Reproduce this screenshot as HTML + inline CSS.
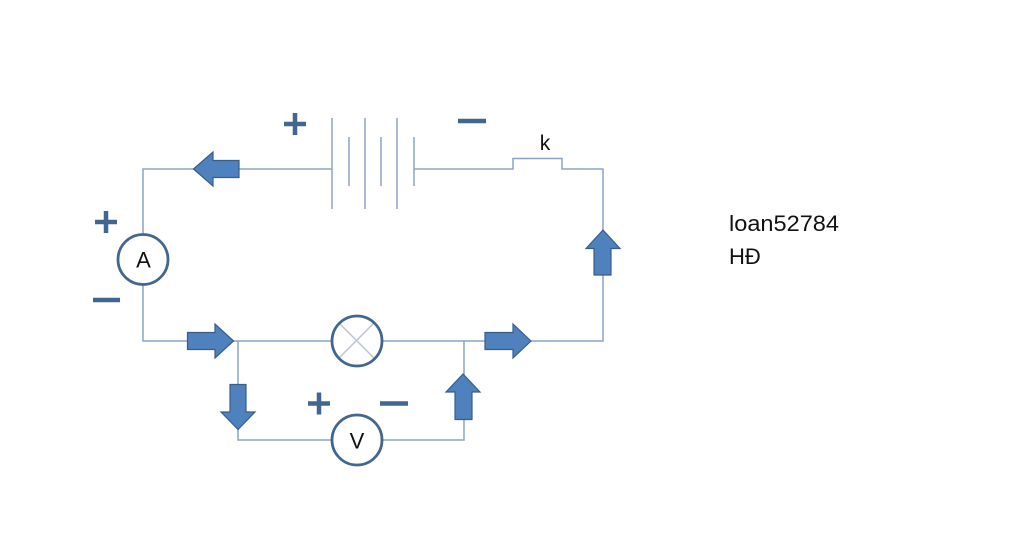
<!DOCTYPE html>
<html><head><meta charset="utf-8"><style>
html,body{margin:0;padding:0;background:#fff;}
svg{display:block;}
</style></head><body>
<svg width="1024" height="550" viewBox="0 0 1024 550" xmlns="http://www.w3.org/2000/svg">
<rect width="1024" height="550" fill="#fff"/>
<g fill="none" stroke="#8aa4c8" stroke-width="1.5">
<polyline points="332,169 143,169 143,234"/>
<polyline points="414,169 513,169 513,158.5 562,158.5 562,169 603,169 603,341 464,341"/>
<polyline points="143,285 143,341 332,341"/>
<line x1="382" y1="341" x2="464" y2="341"/>
<polyline points="238,341 238,440 332,440"/>
<polyline points="382,440 464,440 464,341"/>
<line x1="332" y1="118" x2="332" y2="209"/>
<line x1="365" y1="118" x2="365" y2="209"/>
<line x1="397" y1="118" x2="397" y2="209"/>
<line x1="349" y1="137" x2="349" y2="186"/>
<line x1="381" y1="137" x2="381" y2="186"/>
<line x1="414" y1="137" x2="414" y2="186"/>
<line x1="339" y1="323" x2="374" y2="358" stroke="#b8c6d8"/>
<line x1="374" y1="323" x2="339" y2="358" stroke="#b8c6d8"/>
</g>
<g fill="none" stroke="#41668f" stroke-width="2.8">
<circle cx="143" cy="259.5" r="25"/>
<circle cx="357" cy="341" r="25"/>
<circle cx="357" cy="440" r="25"/>
</g>
<g fill="#4f81bd" stroke="#385d8a" stroke-width="1.2" stroke-linejoin="miter">
<polygon points="193.5,169 213,152 213,160.5 239,160.5 239,177.5 213,177.5 213,186"/>
<polygon points="603,230 620,248.5 611,248.5 611,275 594,275 594,248.5 586,248.5"/>
<polygon points="233.5,341 215,324 215,332.5 187.5,332.5 187.5,349.5 215,349.5 215,358"/>
<polygon points="531,341 513,324 513,332.5 485,332.5 485,349.5 513,349.5 513,358"/>
<polygon points="238,429.5 221,412 230,412 230,384.5 246,384.5 246,412 255,412"/>
<polygon points="463,374 480,392 472,392 472,419.5 455,419.5 455,392 446,392"/>
</g>
<g stroke="#41668f" stroke-width="4.5" fill="none">
<line x1="284" y1="124" x2="306" y2="124"/><line x1="295" y1="113" x2="295" y2="135"/>
<line x1="95" y1="222" x2="117" y2="222"/><line x1="106" y1="211" x2="106" y2="233"/>
<line x1="308" y1="403.5" x2="330" y2="403.5"/><line x1="319" y1="392.5" x2="319" y2="414.5"/>
<line x1="458" y1="121" x2="486" y2="121"/>
<line x1="93" y1="300" x2="120" y2="300"/>
<line x1="380" y1="403.5" x2="408" y2="403.5"/>
</g>
<g font-family="Liberation Sans, sans-serif" fill="#111" text-anchor="middle">
<text x="143.5" y="267.5" font-size="22">A</text>
<text x="357" y="448.5" font-size="22">V</text>
<text x="545" y="150" font-size="21">k</text>
</g>
<g font-family="Liberation Sans, sans-serif" fill="#111" font-size="22">
<text x="729" y="231" textLength="110" lengthAdjust="spacingAndGlyphs">loan52784</text>
<text x="729" y="264">HĐ</text>
</g>
</svg>
</body></html>
